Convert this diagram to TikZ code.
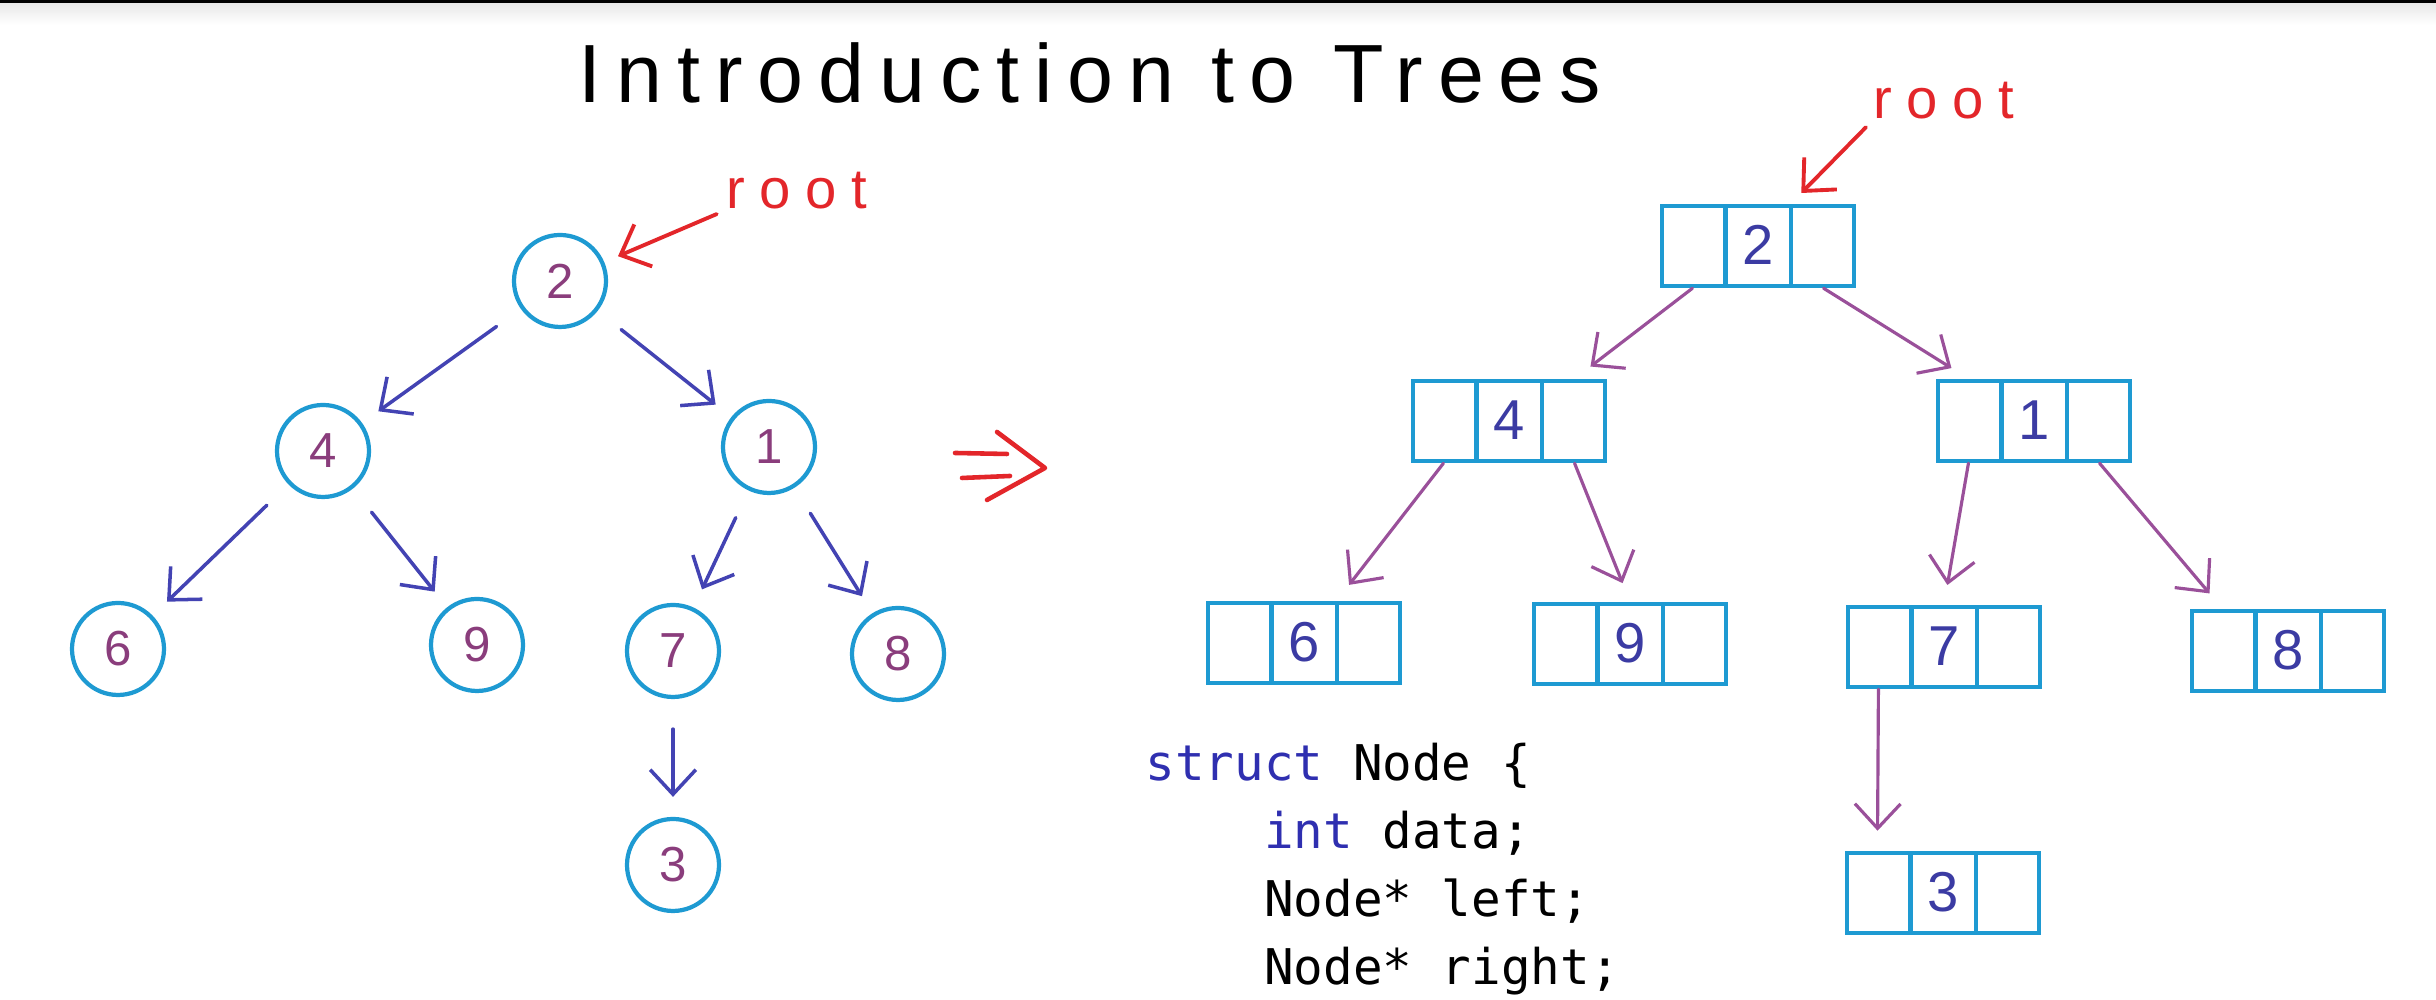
\documentclass[tikz,border=0pt]{standalone}
\usepackage{fontspec}
\setmainfont{Liberation Sans}
\newfontfamily\handfont[LetterSpace=18]{Liberation Sans}
\newfontfamily\rootfont[LetterSpace=26]{Liberation Sans}
\newfontfamily\codefont{DejaVu Sans Mono}
\usetikzlibrary{arrows.meta,positioning,shapes.multipart}
\definecolor{treecyan}{HTML}{1E9AD2}
\definecolor{keyblue}{HTML}{2F2FB0}
\definecolor{edgeblue}{HTML}{4343B3}
\definecolor{edgepurple}{HTML}{9A509A}
\definecolor{digitpurple}{HTML}{8A3D7C}
\definecolor{digitblue}{HTML}{3B3BA3}
\definecolor{rootred}{HTML}{E3262A}
% three equal cells of a linked node: left ptr | data | right ptr
\newcommand{\cellstrut}{\rule[-2.1mm]{0pt}{8mm}}
\newcommand{\cells}[1]{\hbox to 6.1mm{\cellstrut\hfil}\nodepart{two}\hbox to 6.1mm{\cellstrut\hss#1\hss}\nodepart{three}\hbox to 6.1mm{\cellstrut\hfil}}
\tikzset{
  tnode/.style={circle,draw=treecyan,line width=1.2pt,minimum size=9.2mm,inner sep=0pt,
                text=digitpurple,font=\fontsize{14}{14}\selectfont},
  rec/.style={rectangle split,rectangle split horizontal,rectangle split parts=3,
              draw=treecyan,line width=1.3pt,inner xsep=0pt,inner ysep=0pt,
              text=digitblue,font=\fontsize{16}{16}\selectfont},
  tedge/.style={-{Straight Barb[length=7pt,width=13pt]},draw=edgeblue,line width=1pt,
                line cap=round,shorten <=3mm,shorten >=2mm},
  redge/.style={-{Straight Barb[length=7pt,width=13pt]},draw=edgepurple,line width=0.9pt,
                line cap=round,shorten >=2mm},
  rootlbl/.style={text=rootred,font=\rootfont\fontsize{16}{16}\selectfont,inner sep=0pt},
  rootarrow/.style={-{Straight Barb[length=7pt,width=13pt]},draw=rootred,line width=1.1pt,
                    line cap=round,shorten <=1mm,shorten >=1.5mm},
  codetxt/.style={font=\codefont\fontsize{14}{19.4}\selectfont,align=left,inner sep=0pt},
}
\begin{document}
\begin{tikzpicture}
  \useasboundingbox (0,0) rectangle (24.36,10);
  \fill[white] (0,0) rectangle (24.36,10);
  \shade[top color=black!9,bottom color=white] (0,9.75) rectangle (24.36,9.97);
  \fill[black] (0,9.97) rectangle (24.36,10);

  \node[font=\handfont\fontsize{23.5}{23.5}\selectfont,anchor=base] (title) at (10.90,8.97)
    {Introduction to Trees};

  % left: the tree as circles
  \node[tnode] (n2) at (5.60,7.19) {2};
  \node[tnode] (n4) at (3.23,5.49) {4};
  \node[tnode] (n1) at (7.69,5.53) {1};
  \node[tnode] (n6) at (1.18,3.51) {6};
  \node[tnode] (n9) at (4.77,3.55) {9};
  \node[tnode] (n7) at (6.73,3.49) {7};
  \node[tnode] (n8) at (8.98,3.46) {8};
  \node[tnode] (n3) at (6.73,1.35) {3};

  \node[rootlbl] (rootL) at (7.97,8.09) {root};
  \draw[rootarrow] (rootL.south west) -- (n2);

  \foreach \a/\b in {n2/n4,n2/n1,n4/n6,n4/n9,n1/n7,n1/n8,n7/n3}
    \draw[tedge] (\a) -- (\b);

  % the => sign
  \begin{scope}[draw=rootred,line width=1.3pt,line cap=round,line join=round]
    \draw (9.55,5.47) -- (10.07,5.46);
    \draw (9.62,5.22) -- (10.10,5.24);
    \draw (9.97,5.68) -- (10.45,5.32) -- (9.87,5.00);
  \end{scope}

  % right: the same tree as linked nodes
  \node[rec] (b2) at (17.58,7.54) {\cells{2}};
  \node[rec] (b4) at (15.09,5.79) {\cells{4}};
  \node[rec] (b1) at (20.34,5.79) {\cells{1}};
  \node[rec] (b6) at (13.04,3.57) {\cells{6}};
  \node[rec] (b9) at (16.30,3.56) {\cells{9}};
  \node[rec] (b7) at (19.44,3.53) {\cells{7}};
  \node[rec] (b8) at (22.88,3.49) {\cells{8}};
  \node[rec] (b3) at (19.43,1.07) {\cells{3}};

  \node[rootlbl] (rootR) at (19.44,8.99) {root};
  \draw[rootarrow] (rootR.south west) -- (b2.two split north);

  \draw[redge] (b2.one south) -- (b4.three north);
  \draw[redge] (b2.three south) -- (b1.one north);
  \draw[redge] (b4.one south) -- (b6.two split north);
  \draw[redge] (b4.three south) -- (b9.two north);
  \draw[redge] (b1.one south) -- (b7.two north);
  \draw[redge] (b1.three south) -- (b8.one north);
  \draw[redge] (b7.one south) -- (b3.one north);

  % struct declaration (base = last line)
  \node[codetxt,anchor=base west] (code) at (11.45,0.15)
    {\textcolor{keyblue}{struct} Node \{\\
     \phantom{1234}\textcolor{keyblue}{int} data;\\
     \phantom{1234}Node* left;\\
     \phantom{1234}Node* right;};
\end{tikzpicture}
\end{document}
